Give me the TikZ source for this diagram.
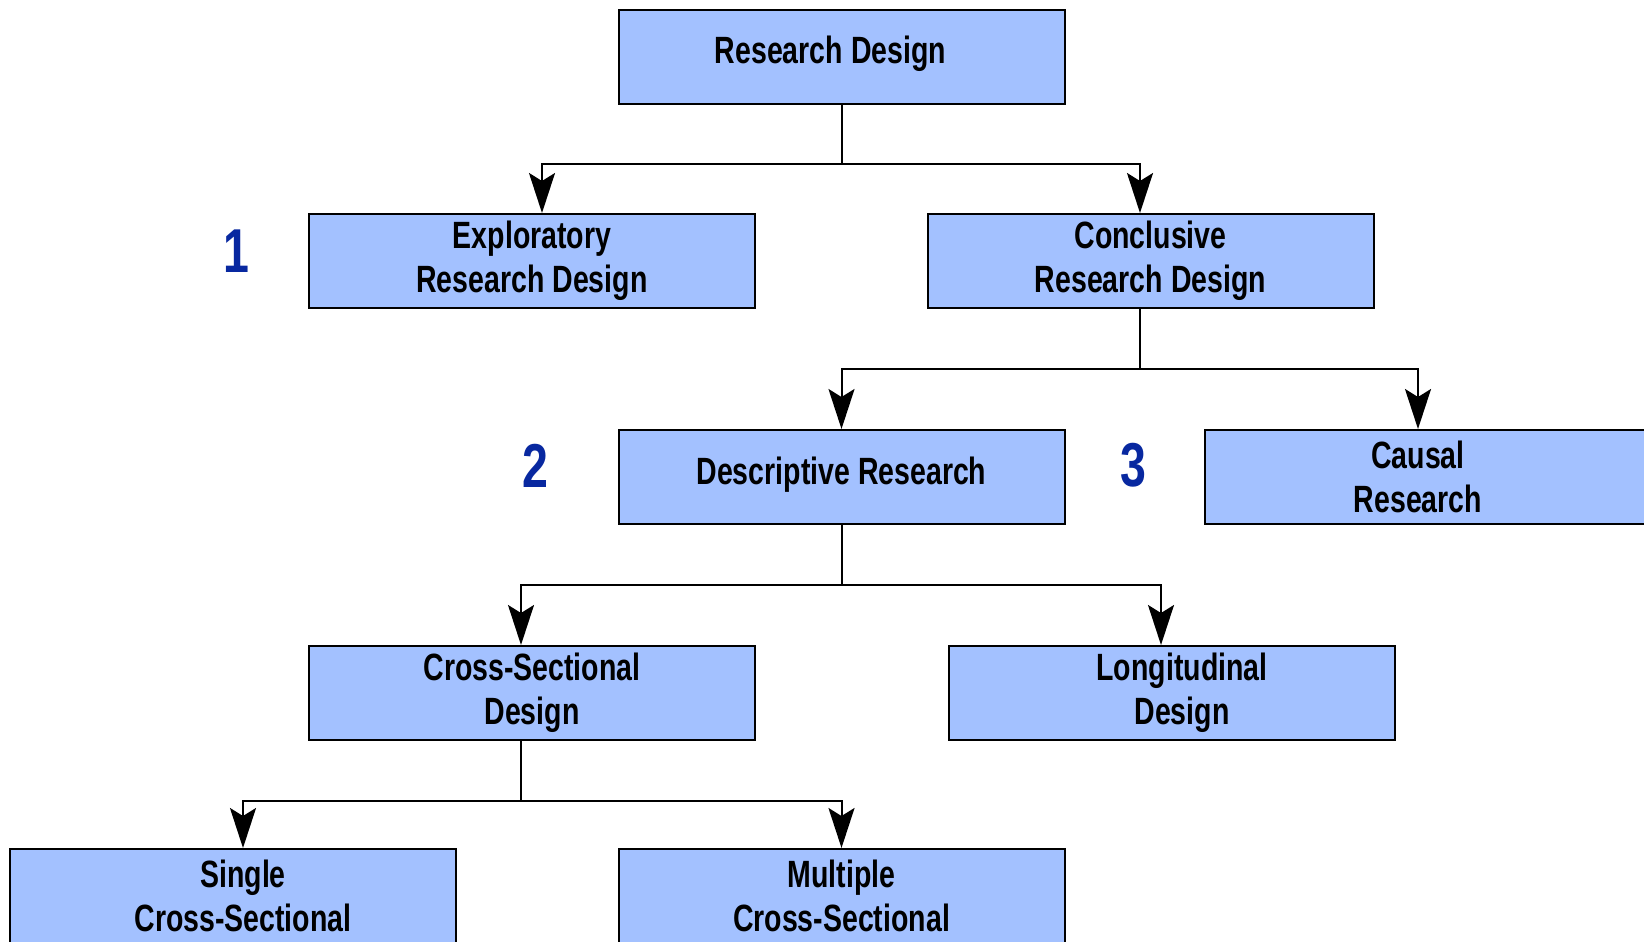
\documentclass[tikz,border=0pt]{standalone}
\usepackage{fontspec}
\setmainfont{Liberation Sans}[FakeStretch=0.75]
\usetikzlibrary{arrows.meta}
\definecolor{boxfill}{RGB}{163,193,255}
\definecolor{numblue}{RGB}{8,40,160}
\tikzset{
  box/.style={draw=black, line width=2pt, fill=boxfill, minimum width=446pt,
    minimum height=94pt, inner sep=0pt, align=center,
    font=\bfseries\fontsize{38}{44}\selectfont},
  num/.style={text=numblue, inner sep=0pt, font=\bfseries\fontsize{62}{62}\selectfont},
  conn/.style={line width=2pt, draw=black},
  arr/.style={conn, -{Stealth[length=40pt, width=26pt, inset=8pt]}}
}
\begin{document}
\begin{tikzpicture}[x=1pt, y=-1pt]
\useasboundingbox (0,0) rectangle (1644,943);
\clip (0,0) rectangle (1644,941.5);

% boxes
\node[box, text depth=14pt] (top) at (841.5,57) {Research Design\hspace*{22pt}};
\node[box] (expl)   at (532,261)   {Exploratory\\Research Design};
\node[box] (concl)  at (1150.5,261) {Conclusive\\Research Design};
\node[box, text depth=12pt] (desc) at (841.5,477) {Descriptive Research};
\node[box] (causal) at (1428,477)  {Causal\hspace*{20pt}\\Research\hspace*{20pt}};
\node[box] (cross)  at (532,693)   {Cross-Sectional\\Design};
\node[box] (longi)  at (1172,693)  {\hspace*{20pt}Longitudinal\\\hspace*{20pt}Design};
\node[box] (single) at (233,896)   {\hspace*{20pt}Single\\\hspace*{20pt}Cross-Sectional};
\node[box] (multi)  at (841.5,896) {Multiple\\Cross-Sectional};

% numbers
\node[num] (n1) at (236,251) {1};
\node[num] (n2) at (535,466) {2};
\node[num] (n3) at (1133,465) {3};

% bus points
\coordinate (b1) at (841.5,164);
\coordinate (b2) at (1140,369);
\coordinate (b3) at (841.5,585);
\coordinate (b4) at (521,801);

% connectors
\draw[conn] (top.south) -- (b1);
\draw[arr] (b1) -| ([xshift=10pt]expl.north);
\draw[arr] (b1) -| ([xshift=-10.5pt]concl.north);

\draw[conn] ([xshift=-10.5pt]concl.south) -- (b2);
\draw[arr] (b2) -| (desc.north);
\draw[arr] (b2) -| ([xshift=-10pt]causal.north);

\draw[conn] (desc.south) -- (b3);
\draw[arr] (b3) -| ([xshift=-11pt]cross.north);
\draw[arr] (b3) -| ([xshift=-11pt]longi.north);

\draw[conn] ([xshift=-11pt]cross.south) -- (b4);
\draw[arr] (b4) -| ([xshift=10pt]single.north);
\draw[arr] (b4) -| (multi.north);
\end{tikzpicture}
\end{document}
